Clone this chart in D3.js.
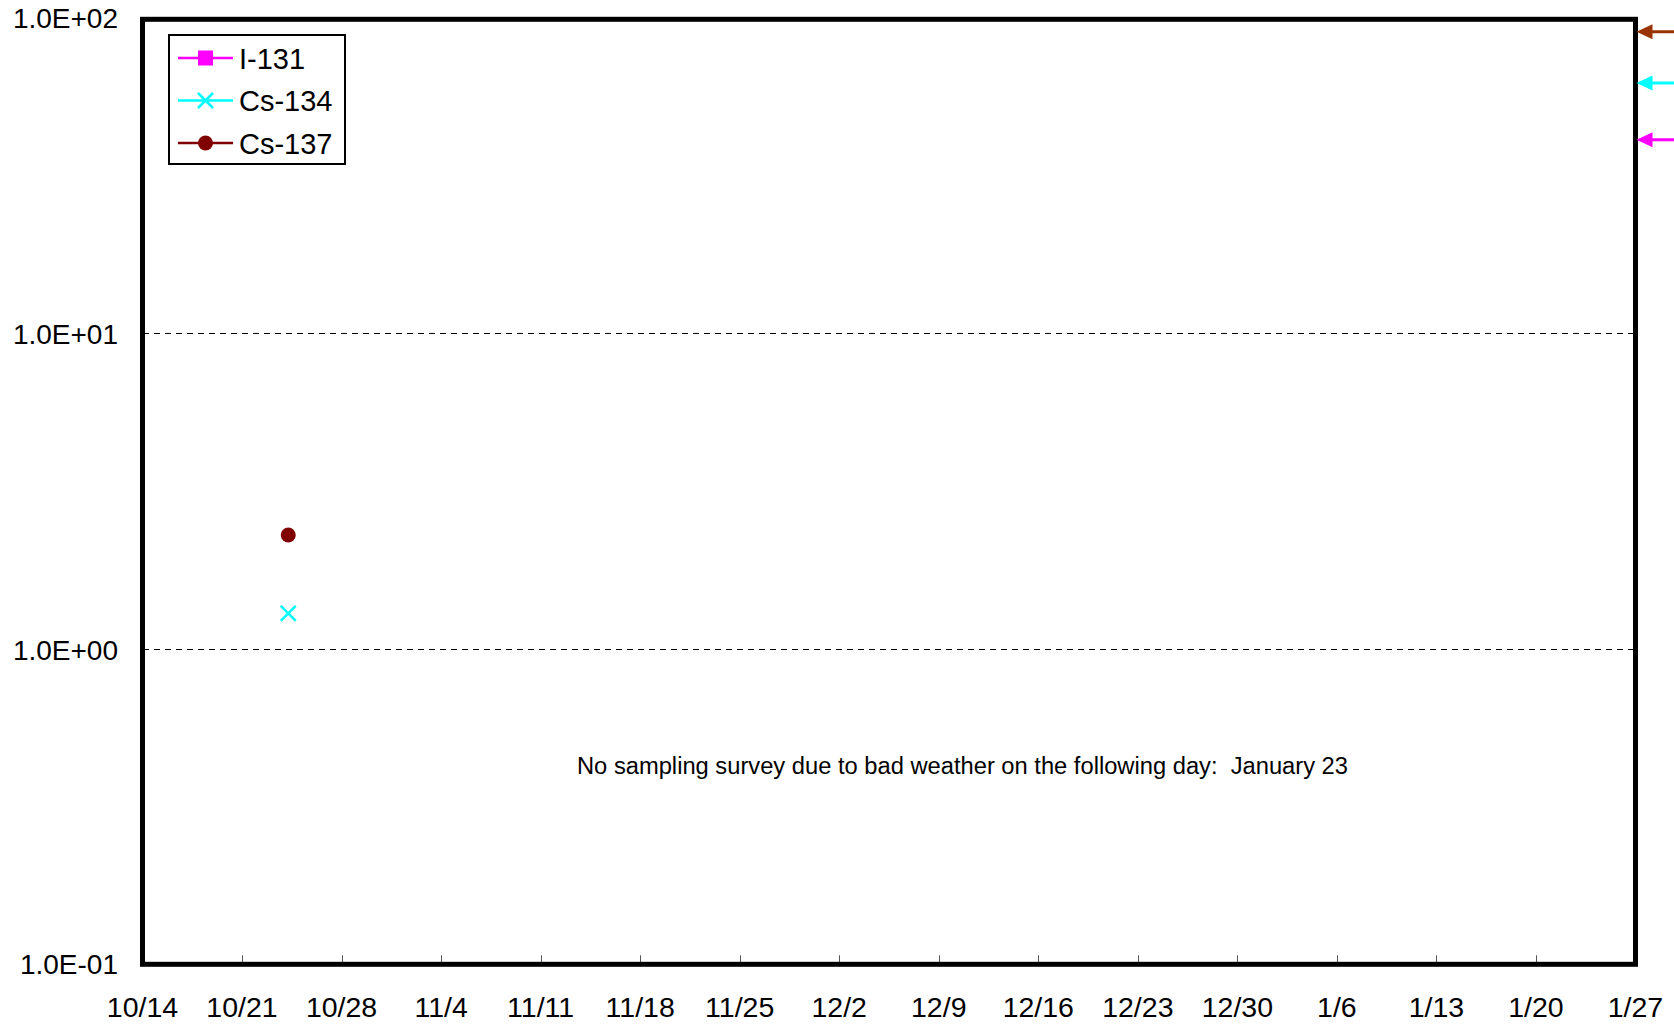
<!DOCTYPE html>
<html>
<head>
<meta charset="utf-8">
<script src="https://cdn.jsdelivr.net/npm/d3@7"></script>
<style>
  html, body { margin: 0; padding: 0; background: #fff; }
  svg { display: block; font-family: "Liberation Sans", Arial, sans-serif; }
</style>
</head>
<body>
<svg id="chart" width="1674" height="1025"></svg>
<script>
// ---------- data ----------
const xTickLabels = ["10/14","10/21","10/28","11/4","11/11","11/18","11/25","12/2","12/9","12/16","12/23","12/30","1/6","1/13","1/20","1/27"];
const xTickDates  = ["2012-10-14","2012-10-21","2012-10-28","2012-11-04","2012-11-11","2012-11-18","2012-11-25","2012-12-02","2012-12-09","2012-12-16","2012-12-23","2012-12-30","2013-01-06","2013-01-13","2013-01-20","2013-01-27"];
const yTickValues = [0.1, 1, 10, 100];
const yTickLabels = ["1.0E-01","1.0E+00","1.0E+01","1.0E+02"];
const seriesNames = ["I-131","Cs-134","Cs-137"];
const sampleDates = ["2012-10-24T06:00"];
const i131Values  = [null];
const cs134Values = [1.3];
const cs137Values = [2.3];
const limitValues = [41, 62, 90];          // I-131, Cs-134, Cs-137 reference levels (arrows)
const annotationText = "No sampling survey due to bad weather on the following day:  January 23";

// ---------- setup ----------
const svg = d3.select("#chart");
const parse = d => new Date(d);
const x = d3.scaleTime()
  .domain([parse(xTickDates[0] + "T00:00"), parse(xTickDates[xTickDates.length - 1] + "T00:00")])
  .range([142.5, 1635.5]);
const y = d3.scaleLog().domain([0.1, 100]).range([965.3, 17.3]);

const colors = { "I-131": "#ff00ff", "Cs-134": "#00ffff", "Cs-137": "#800000" };
const arrowColors = ["#ff00ff", "#00ffff", "#993300"];

// gridlines (dashed) at interior decades
svg.append("g").selectAll("line")
  .data(yTickValues.filter(v => v > 0.1 && v < 100))
  .join("line")
  .attr("x1", x.range()[0]).attr("x2", x.range()[1])
  .attr("y1", d => Math.round(y(d)) + 0.5).attr("y2", d => Math.round(y(d)) + 0.5)
  .attr("stroke", "#000").attr("stroke-width", 1)
  .attr("shape-rendering", "crispEdges")
  .attr("stroke-dasharray", "6,5");

// x ticks (small inward ticks from the bottom)
const xDates = xTickDates.map(d => parse(d + "T00:00"));
svg.append("g").selectAll("line")
  .data(xDates.slice(1, -1))
  .join("line")
  .attr("x1", d => Math.round(x(d)) + 0.5).attr("x2", d => Math.round(x(d)) + 0.5)
  .attr("y1", y(0.1) - 10).attr("y2", y(0.1))
  .attr("stroke", "#555").attr("stroke-width", 1);

// frame
svg.append("rect")
  .attr("x", x.range()[0]).attr("y", y(100) + 2)
  .attr("width", x.range()[1] - x.range()[0])
  .attr("height", (y(0.1) - 1) - (y(100) + 2))
  .attr("fill", "none").attr("stroke", "#000").attr("stroke-width", 5);

// y labels
svg.append("g").selectAll("text")
  .data(yTickValues)
  .join("text")
  .attr("x", 118).attr("y", d => y(d) + (d === 0.1 ? 9 : 11))
  .attr("text-anchor", "end")
  .attr("font-size", 28)
  .text((d, i) => yTickLabels[i]);

// x labels
svg.append("g").selectAll("text")
  .data(xDates)
  .join("text")
  .attr("x", d => x(d)).attr("y", 1017)
  .attr("text-anchor", "middle")
  .attr("font-size", 28.5)
  .text((d, i) => xTickLabels[i]);

// series
const seriesData = [i131Values, cs134Values, cs137Values].map((vals, k) => ({
  name: seriesNames[k],
  points: vals.map((v, i) => ({ date: parse(sampleDates[i]), v })).filter(p => p.v != null)
}));

const line = d3.line().x(p => x(p.date)).y(p => y(p.v));
const gS = svg.append("g");
seriesData.forEach(s => {
  if (s.points.length > 1) {
    gS.append("path").attr("d", line(s.points))
      .attr("fill", "none").attr("stroke", colors[s.name]).attr("stroke-width", 2);
  }
});

function marker(g, name, cx, cy) {
  if (name === "I-131") {
    g.append("rect").attr("x", cx - 7.5).attr("y", cy - 7.5).attr("width", 15).attr("height", 15)
      .attr("fill", colors[name]);
  } else if (name === "Cs-134") {
    const r = 7.5;
    g.append("path").attr("d", `M${cx - r},${cy - r}L${cx + r},${cy + r}M${cx - r},${cy + r}L${cx + r},${cy - r}`)
      .attr("stroke", colors[name]).attr("stroke-width", 2.5).attr("fill", "none");
  } else {
    g.append("circle").attr("cx", cx).attr("cy", cy).attr("r", 7.5).attr("fill", colors[name]);
  }
}
seriesData.forEach(s => s.points.forEach(p => marker(gS, s.name, x(p.date), y(p.v))));

// reference-level arrows on the right edge
const gA = svg.append("g");
limitValues.forEach((v, i) => {
  const yy = y(v);
  const tip = x.range()[1] + 1;
  gA.append("line").attr("x1", tip + 10).attr("x2", 1680).attr("y1", yy).attr("y2", yy)
    .attr("stroke", arrowColors[i]).attr("stroke-width", 3);
  gA.append("path").attr("d", `M${tip},${yy}L${tip + 16},${yy - 7.5}L${tip + 16},${yy + 7.5}Z`)
    .attr("fill", arrowColors[i]);
});

// annotation
svg.append("text")
  .attr("x", 577).attr("y", 773.5)
  .attr("font-size", 23.5)
  .style("white-space", "pre")
  .attr("xml:space", "preserve")
  .attr("textLength", 771).attr("lengthAdjust", "spacingAndGlyphs")
  .text(annotationText);

// legend
const lg = svg.append("g");
lg.append("rect").attr("x", 169).attr("y", 35).attr("width", 176).attr("height", 129)
  .attr("fill", "#fff").attr("stroke", "#000").attr("stroke-width", 2);
seriesNames.forEach((name, i) => {
  const yy = 58 + i * 42.5;
  lg.append("line").attr("x1", 178).attr("x2", 233).attr("y1", yy).attr("y2", yy)
    .attr("stroke", colors[name]).attr("stroke-width", 2.5);
  marker(lg, name, 205.5, yy);
  lg.append("text").attr("x", 239).attr("y", yy + 10.5).attr("font-size", 29).text(name);
});
</script>
</body>
</html>
